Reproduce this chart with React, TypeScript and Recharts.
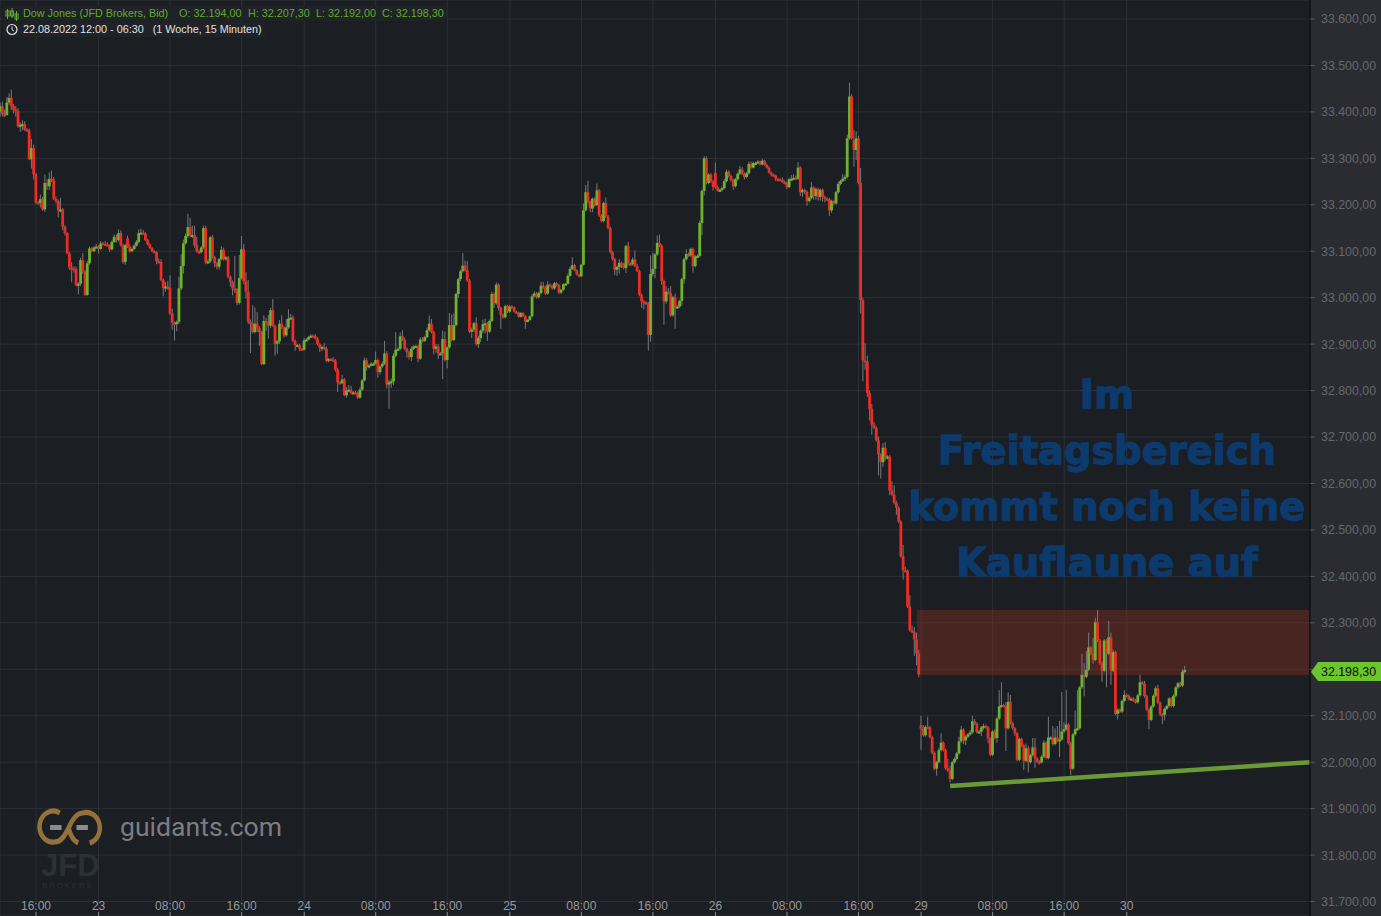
import React from "react";
import { ComposedChart, Bar, XAxis, YAxis, CartesianGrid, ReferenceArea, ReferenceLine } from "recharts";

const closes = [
33412,33395,33393,33420,33430,33412,33405,33402,33369,33372,
33374,33362,33360,33298,33322,33266,33205,33204,33212,33190,
33247,33240,33256,33254,33213,33208,33188,33190,33153,33139,
33096,33065,33063,33062,33027,33030,33081,33056,33006,33074,
33106,33100,33108,33110,33105,33117,33116,33115,33112,33104,
33120,33131,33124,33139,33113,33077,33113,33110,33100,33105,
33112,33120,33139,33140,33138,33124,33115,33107,33100,33098,
33078,33077,33038,33021,33024,33022,32966,32946,32943,32948,
33020,33068,33117,33133,33152,33133,33135,33113,33100,33098,
33108,33150,33076,33078,33130,33087,33074,33067,33083,33103,
33083,33087,33045,33034,33020,33018,32989,33042,33104,33035,
33013,32948,32944,32926,32944,32934,32926,32857,32950,32948,
32940,32973,32939,32901,32906,32944,32936,32919,32936,32955,
32957,32907,32898,32898,32890,32888,32908,32910,32915,32918,
32917,32912,32900,32893,32894,32890,32864,32868,32867,32865,
32845,32818,32816,32824,32790,32800,32802,32795,32796,32795,
32785,32802,32822,32865,32851,32854,32858,32858,32866,32840,
32852,32858,32880,32813,32818,32820,32875,32888,32890,32917,
32909,32890,32883,32872,32890,32895,32896,32869,32910,32907,
32915,32930,32944,32926,32890,32895,32880,32880,32911,32866,
32893,32941,32909,32941,33008,33040,33057,33069,33059,33037,
32927,32931,32945,32900,32913,32929,32943,32945,32927,32950,
33008,32988,33028,32978,32963,32958,32982,32970,32981,32979,
32970,32968,32959,32967,32960,32949,32952,32960,33003,33009,
33001,33010,33026,33022,33009,33028,33025,33020,33031,33027,
33011,33017,33029,33030,33047,33062,33070,33059,33050,33046,
33071,33188,33227,33206,33192,33213,33199,33231,33177,33165,
33204,33175,33150,33098,33083,33060,33066,33075,33072,33064,
33111,33073,33072,33082,33068,33057,33006,32992,32990,32988,
32920,33051,33062,33093,33118,33112,33036,32992,33013,33010,
32962,33001,32979,32981,32993,33040,33083,33094,33091,33105,
33068,33089,33090,33161,33230,33300,33247,33265,33250,33238,
33238,33231,33232,33236,33251,33271,33262,33253,33240,33255,
33267,33276,33267,33260,33268,33288,33280,33290,33290,33293,
33287,33295,33286,33280,33269,33265,33263,33256,33255,33254,
33249,33247,33238,33255,33256,33258,33256,33280,33227,33232,
33228,33208,33215,33237,33219,33234,33217,33232,33217,33213,
33212,33188,33208,33203,33227,33245,33251,33256,33260,33343,
33433,33343,33318,33343,33247,32995,32865,32863,32795,32761,
32727,32720,32693,32662,32646,32677,32655,32658,32585,32576,
32558,32548,32518,32443,32413,32412,32335,32284,32281,32264,
32234,32189,32072,32058,32076,32075,32054,32020,31986,32000,
32026,32042,32026,31987,31982,31964,32000,32007,32019,32045,
32070,32047,32055,32060,32064,32088,32083,32065,32066,32075,
32078,32075,32051,32016,32066,32052,32094,32120,32123,32121,
32073,32130,32084,32073,32062,32005,32050,32036,32003,32030,
32000,32015,32032,32008,32001,32000,32012,32042,32009,32053,
32053,32039,32053,32046,32049,32066,32071,32081,32041,31986,
32060,32071,32073,32161,32188,32184,32199,32247,32233,32220,
32301,32262,32213,32197,32262,32233,32269,32197,32237,32104,
32113,32109,32132,32145,32143,32136,32137,32133,32129,32144,
32172,32170,32142,32113,32091,32120,32143,32159,32128,32103,
32102,32115,32121,32137,32121,32143,32161,32170,32165,32195,
32198.3];

const wickUp = [
8,10,10,12,10,18,5,8,6,6,
8,6,3,4,20,8,3,3,10,5,
18,8,14,18,6,5,3,25,3,3,
2,3,12,5,5,3,5,15,3,6,
4,3,3,6,3,5,3,6,4,3,
3,5,5,8,6,3,3,6,5,3,
3,4,8,9,6,3,3,2,2,2,
2,6,6,3,10,12,26,10,3,3,
25,25,8,5,29,20,20,20,18,3,
3,5,5,5,3,5,3,3,3,8,
5,3,3,3,3,70,3,50,29,12,
20,25,5,40,35,25,5,3,12,7,
15,5,24,3,3,8,18,3,18,20,
8,5,3,2,3,2,5,3,3,3,
3,5,3,2,3,8,5,2,2,5,
3,3,2,10,3,8,10,8,3,3,
3,5,3,6,5,3,3,3,18,3,
3,5,27,5,5,6,5,38,3,8,
13,5,3,3,5,3,3,3,5,5,
3,6,18,10,3,5,5,3,18,16,
3,26,23,25,3,3,3,27,11,20,
3,5,3,13,5,3,10,10,3,3,
5,3,5,3,3,3,3,3,3,3,
2,2,2,2,2,2,2,2,5,5,
3,3,8,8,3,8,3,3,3,3,
3,2,2,2,5,5,17,3,2,2,
2,15,16,25,3,3,3,15,3,3,
3,12,3,3,3,3,3,8,3,3,
3,9,3,5,20,5,3,3,3,3,
3,40,35,3,16,18,3,3,12,8,
15,3,8,3,3,3,3,10,3,3,
3,3,3,5,3,5,4,3,3,3,
22,3,3,3,5,5,3,3,3,3,
3,8,5,3,3,5,5,3,3,3,
2,4,2,3,3,3,2,2,2,2,
5,3,3,3,8,8,5,12,3,3,
3,3,3,12,3,3,3,3,3,3,
3,3,3,3,3,5,3,10,5,8,
30,5,22,15,5,32,5,37,12,5,
10,5,3,8,3,10,12,3,3,20,
20,5,3,3,25,8,3,25,10,10,
15,8,20,8,3,22,3,3,3,3,
5,20,3,3,20,10,3,3,3,10,
8,3,3,3,5,12,5,3,3,3,
5,3,3,3,3,5,3,35,49,3,
8,20,15,3,3,3,3,3,3,10,
5,3,20,20,3,3,3,5,3,45,
3,25,20,25,40,85,15,75,3,3,
3,40,82,3,45,25,40,32,3,35,
10,27,3,3,3,3,35,10,5,3,
3,3,3,10,3,3,3,3,3,3,
16,3,5,3,3,3,3,5,8,3,
3,3,3,3,3,3,3,3,3,5,
9];

const wickDown = [
10,5,4,0,5,8,8,12,3,12,
12,3,2,2,20,12,3,3,10,3,
5,8,8,5,3,5,15,4,8,5,
2,5,30,8,3,20,5,5,2,2,
3,2,2,2,10,2,2,2,2,5,
2,2,6,3,3,4,6,3,3,2,
2,2,3,2,2,2,2,2,2,2,
6,2,3,18,8,5,3,15,35,15,
5,4,16,3,4,3,4,5,3,4,
3,3,4,3,3,3,8,6,6,3,
3,3,3,10,15,8,5,4,3,6,
15,5,63,3,3,8,30,2,2,20,
28,5,2,26,22,5,3,5,3,3,
3,3,12,3,5,2,2,2,2,2,
2,2,3,10,8,3,3,3,3,3,
4,21,3,2,2,5,3,3,2,2,
3,2,2,2,8,3,2,2,2,12,
5,3,3,8,52,12,8,3,2,3,
2,3,12,5,8,3,2,8,3,3,
2,2,3,3,12,8,12,3,55,3,
18,3,3,3,3,8,4,3,3,3,
3,14,5,3,8,8,5,20,20,3,
3,10,3,5,30,3,3,3,3,3,
2,2,2,2,2,16,2,2,2,2,
3,3,3,3,3,3,3,3,3,3,
3,3,2,2,2,2,2,2,2,2,
2,2,2,3,8,8,3,2,3,3,
3,3,3,3,3,11,13,14,8,3,
11,3,3,3,2,2,3,14,15,3,
34,15,5,20,3,3,8,50,5,3,
3,3,46,3,3,10,10,3,3,3,
14,3,3,3,27,10,3,3,3,8,
3,2,2,3,3,3,3,3,8,3,
3,3,3,5,3,3,2,2,2,2,
2,2,2,2,2,4,2,5,5,2,
2,3,4,2,2,2,2,2,8,10,
5,10,3,3,8,8,8,8,10,8,
3,12,5,3,3,3,3,2,5,3,
3,3,36,22,3,29,45,18,8,25,
22,3,3,45,35,10,5,3,10,3,
3,15,3,3,20,3,3,3,3,35,
25,6,45,3,3,3,3,3,3,15,
3,3,3,3,3,8,3,3,3,3,
3,8,10,3,3,3,3,3,3,10,
5,3,10,3,3,3,10,3,3,3,
49,3,3,3,5,3,3,3,20,3,
22,3,3,20,3,5,3,3,3,3,
3,3,3,3,35,3,3,3,3,14,
3,3,3,3,3,42,3,3,3,8,
3,3,3,24,3,72,3,30,3,3,
12,3,3,3,3,3,3,3,3,3,
3,3,3,3,20,3,3,3,3,3,
20,12,3,3,3,3,3,3,3,3,
3];

// Candles that do not open at the previous close.
const openIndex = [0, 57, 320, 382, 412, 530];
const openValue = [33400, 33128, 33269, 33339, 32080, 32194];

const priceTicks = [33600,33500,33400,33300,33200,33100,33000,32900,32800,32700,32600,32500,32400,32300,32200,32100,32000,31900,31800,31700];
const timeTickIndex = [16,44,76,108,136,168,200,228,260,292,320,352,384,412,444,476,504];
const timeTickLabel = ["16:00","23","08:00","16:00","24","08:00","16:00","25","08:00","16:00","26","08:00","16:00","29","08:00","16:00","30"];
const noteLines = ["Im", "Freitagsbereich", "kommt noch keine", "Kauflaune auf"];
const headerParts = ["Dow Jones (JFD Brokers, Bid)", "O: 32.194,00", "H: 32.207,30", "L: 32.192,00", "C: 32.198,30"];
const headerLeft = [20, 176, 245, 313, 379];

const zoneTop = 32327.5;
const zoneBottom = 32187.7;
const zoneStart = 410.2;
const trendStart = { x: 425, y: 31948.8 };
const trendEnd = { x: 586, y: 32000 };
const lastPrice = 32198.3;

const rows = closes.map((c, i) => {
  const k = openIndex.indexOf(i);
  const o = k >= 0 ? openValue[k] : closes[i - 1];
  const top = Math.max(o, c);
  const bottom = Math.min(o, c);
  return { i, o, c, top, bottom, range: [bottom - wickDown[i], top + wickUp[i]] };
});

const fmt = (v: number) => v.toLocaleString("de-DE", { minimumFractionDigits: 2, maximumFractionDigits: 2 });

const BG = "#1b1e23";
const PANEL = "#2a2c31";
const GRID = "#2d3034";
const RED = "#ec2c25";
const GREEN = "#6eb32c";
const WICK = "#76787b";

function Candle(props: any) {
  const { x, y, width, height, payload } = props;
  const hi = payload.range[1];
  const lo = payload.range[0];
  const k = height / Math.max(hi - lo, 0.001);
  const bodyY = y + (hi - payload.top) * k;
  const bodyH = Math.max((payload.top - payload.bottom) * k, 2);
  const cx = x + width / 2;
  const color = payload.c >= payload.o ? GREEN : RED;
  return (
    <g>
      <rect x={cx - 0.5} y={y} width={1} height={height} fill={WICK} />
      <rect x={cx - 1.4} y={bodyY} width={2.8} height={bodyH} fill={color} />
    </g>
  );
}

function TimeTick(props: any) {
  const { x, index } = props;
  return (
    <g>
      <line x1={x} x2={x} y1={912} y2={916} stroke="#8a8c8e" />
      <text x={x} y={910} textAnchor="middle" fontSize={12} fill="#97999b" fontFamily="Liberation Sans">
        {timeTickLabel[index]}
      </text>
    </g>
  );
}

export default function App() {
  return (
    <div style={{ position: "fixed", left: 0, top: 0, width: 1381, height: 916, background: PANEL, overflow: "hidden", fontFamily: "Liberation Sans" }}>
      <ComposedChart width={1381} height={916} data={rows} margin={{ top: 0, right: 0, bottom: 0, left: 0 }}>
        <CartesianGrid stroke={GRID} fill={BG} />
        <XAxis
          dataKey="i"
          type="number"
          scale="linear"
          domain={[-0.107, 586]}
          allowDataOverflow
          ticks={timeTickIndex}
          interval={0}
          mirror
          axisLine={false}
          tickLine={false}
          tick={<TimeTick />}
        />
        <YAxis
          orientation="right"
          width={71}
          type="number"
          domain={[31668.9, 33640.9]}
          allowDataOverflow
          ticks={priceTicks}
          interval={0}
          tickFormatter={fmt}
          axisLine={{ stroke: "#000", strokeWidth: 1 }}
          tickLine={{ stroke: "#55575b" }}
          tickSize={5}
          tickMargin={6}
          tick={{ fill: "#66686c", fontSize: 12.4, fontFamily: "Liberation Sans" }}
        />
        <Bar dataKey="range" barSize={2} shape={<Candle />} isAnimationActive={false} />
        <ReferenceArea x1={zoneStart} x2={585.6} y1={zoneTop} y2={zoneBottom} fill="#8a3020" fillOpacity={0.42} stroke="none" ifOverflow="visible" />
        <ReferenceLine segment={[trendStart, trendEnd]} stroke="#6a9a36" strokeWidth={4.5} ifOverflow="visible" />
      </ComposedChart>

      {/* last price tag */}
      <svg width={71} height={24} style={{ position: "absolute", left: 1310, top: 660 }}>
        <polygon points="1,12 8,2 71,2 71,21 8,21" fill="#6cc42f" />
        <text x={11} y={16} fontSize={12.4} fill="#0a0a0a" fontFamily="Liberation Sans">{fmt(lastPrice)}</text>
      </svg>

      {/* header */}
      <div style={{ position: "absolute", left: 3, top: 6, height: 15, width: 444, background: "#1f2226", fontSize: 10.8, lineHeight: "15px", color: "#62aa2c", whiteSpace: "pre" }}>
        <svg width={14} height={13} style={{ position: "absolute", left: 2, top: 2 }}>
          <g stroke="#62aa2c" fill="none">
            <path d="M2.5 1v10M7 0v10M11.5 3v10" />
            <rect x="1" y="3" width="3" height="5" />
            <rect x="5.5" y="3" width="3" height="5" />
            <rect x="10" y="6" width="3" height="5" />
          </g>
        </svg>
        {headerParts.map((part, n) => (
          <span key={part} style={{ position: "absolute", left: headerLeft[n] }}>{part}</span>
        ))}
      </div>
      <div style={{ position: "absolute", left: 3, top: 22, height: 15, width: 262, background: "#1f2226", fontSize: 10.8, lineHeight: "15px", color: "#e0e0e0", whiteSpace: "pre" }}>
        <svg width={14} height={13} style={{ position: "absolute", left: 2, top: 1 }}>
          <circle cx="7" cy="6.5" r="5" stroke="#e0e0e0" fill="none" strokeWidth="1.2" />
          <path d="M7 3.5v3.2l2 1.3" stroke="#e0e0e0" fill="none" />
        </svg>
        <span style={{ position: "absolute", left: 20 }}>{"22.08.2022 12:00 - 06:30   (1 Woche, 15 Minuten)"}</span>
      </div>

      {/* note */}
      {noteLines.map((line, n) => (
        <div
          key={line}
          style={{
            position: "absolute",
            left: 887,
            width: 440,
            top: 373 + n * 56,
            height: 44,
            lineHeight: "44px",
            textAlign: "center",
            fontFamily: "DejaVu Sans",
            fontWeight: 700,
            fontSize: 38.4,
            color: "#0c3a6c",
            WebkitTextStroke: "1.3px #0c3a6c",
            whiteSpace: "nowrap",
          }}
        >
          {line}
        </div>
      ))}

      {/* watermark */}
      <svg width={80} height={50} style={{ position: "absolute", left: 32, top: 805 }}>
        <g transform="translate(4,0) scale(0.88,1)">
          <g fill="none" stroke="#94713a" strokeWidth="5.2">
            <path d="M27 8 A15.5 15.5 0 1 0 21 37 C29 37 33 30 37 23 C41 15 46 8 53 8 A15.5 15.5 0 0 1 61 38" />
            <path d="M37 23 C39 30 43 36 48 38" />
          </g>
          <rect x="16" y="20" width="13" height="5" fill="#8b8c8d" />
          <rect x="46" y="20" width="13" height="5" fill="#8b8c8d" />
        </g>
      </svg>
      <div style={{ position: "absolute", left: 120, top: 810, fontFamily: "Roboto", fontSize: 26.6, lineHeight: "34px", color: "#7b7d80" }}>guidants.com</div>
      <div style={{ position: "absolute", left: 41, top: 851, fontFamily: "Liberation Sans", fontWeight: 700, fontSize: 31, lineHeight: "29px", color: "#2b3035" }}>JFD</div>
      <div style={{ position: "absolute", left: 42, top: 881, fontFamily: "Liberation Sans", fontSize: 8, lineHeight: "10px", color: "#2b3035", letterSpacing: 1.8 }}>BROKERS</div>
    </div>
  );
}
